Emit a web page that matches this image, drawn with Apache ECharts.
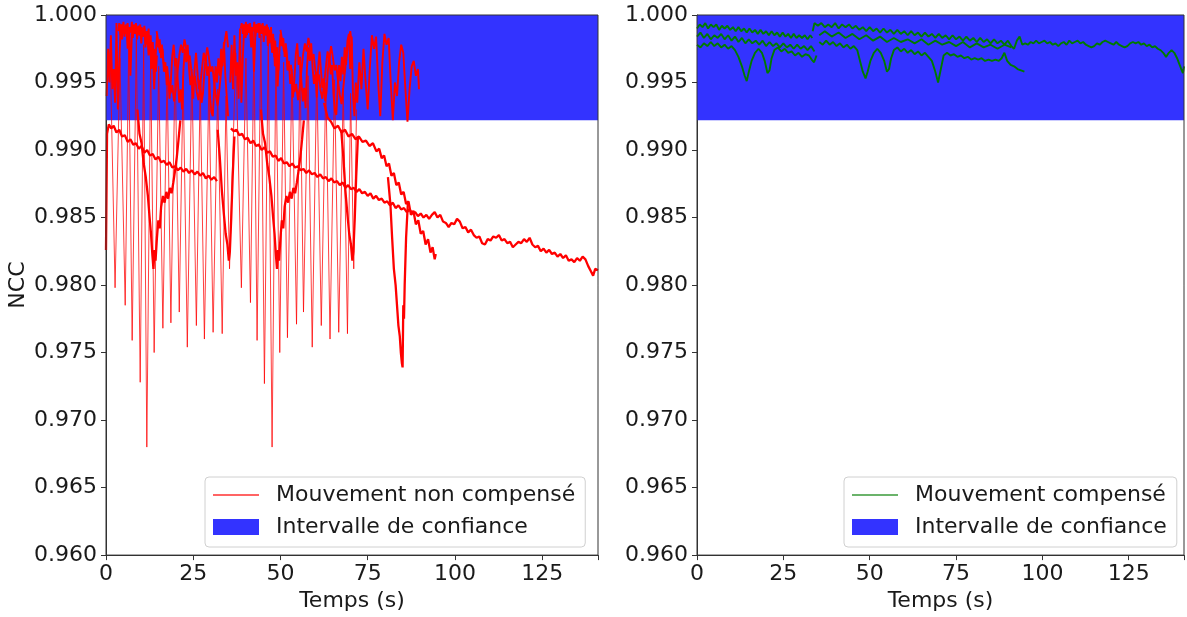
<!DOCTYPE html>
<html>
<head>
<meta charset="utf-8">
<script src="https://cdn.jsdelivr.net/npm/echarts@6/dist/echarts.min.js"></script>
<style>
html, body { margin: 0; padding: 0; background: #fff; }
#ncc_chart { width: 1187px; height: 617px; }
</style>
</head>
<body>
<div id="ncc_chart"></div>
<script>
// axes
const xTicks = [0, 25, 50, 75, 100, 125];
const xMax = 141;
const yMin = 0.96;
const yMax = 1.0;
const yStep = 0.005;

// confidence interval (blue band)
const bandLow = 0.9922;
const bandHigh = 1.0;

// ---- left panel: motion not compensated (red), [time s, NCC] ----
const osc_red = [
  [1.2,0.9972],[2.6,0.9798],[4.0,0.9968],[5.5,0.9785],[6.5,0.9975],[7.5,0.9759],[8.7,0.9982],[9.8,0.9728],
  [10.8,0.9978],[11.7,0.9680],[12.8,0.9970],[13.8,0.9750],[15.1,0.9962],[16.3,0.9768],[17.5,0.9958],[18.6,0.9772],
  [19.8,0.9965],[21.0,0.9780],[22.1,0.9955],[23.3,0.9754],[24.6,0.9960],[25.9,0.9770],[27.0,0.9948],[28.2,0.9760],
  [29.5,0.9952],[30.7,0.9765],[32.0,0.9945],[33.3,0.9764],[34.4,0.9940],[35.4,0.9812],[37.2,0.9972],[38.8,0.9798],
  [40.1,0.9968],[41.4,0.9787],[42.4,0.9978],[43.3,0.9759],[44.4,0.9985],[45.4,0.9727],[46.5,0.9980],[47.6,0.9680],
  [48.7,0.9972],[49.8,0.9750],[50.9,0.9965],[52.0,0.9761],[53.3,0.9960],[54.6,0.9771],[55.6,0.9966],[56.6,0.9780],
  [57.9,0.9955],[59.1,0.9754],[60.4,0.9958],[61.7,0.9770],[63.0,0.9950],[64.2,0.9760],[65.5,0.9952],[66.7,0.9765],
  [68.0,0.9946],[69.2,0.9764],[70.1,0.9942],[71.0,0.9812],[71.8,0.9930]
];
const trend1_red = [
  [0,0.9826],[0.3,0.9912],[0.8,0.9919],[1.5,0.9916],[2.2,0.9918],[3,0.9913],[3.8,0.9915],[4.6,0.9910],[5.4,0.9911],
  [6.2,0.9906],[7,0.9908],[7.8,0.9904],[8.6,0.9905],[9.4,0.9901],[10.2,0.9903],[11,0.9898],[11.8,0.9900],[12.6,0.9896],
  [13.4,0.9897],[14.2,0.9893],[15,0.9895],[15.8,0.9891],[16.6,0.9892],[17.4,0.9889],[18.2,0.9891],[19,0.9887],
  [19.8,0.9888],[20.6,0.9885],[21.4,0.9887],[22.2,0.9884],[23,0.9886],[23.8,0.9883],[24.6,0.9885],[25.4,0.9882],
  [26.2,0.9884],[27,0.9881],[27.8,0.9883],[28.6,0.9879],[29.4,0.9881],[30.2,0.9878],[31,0.9880],[31.8,0.9877]
];
const trend2_red = [
  [35.8,0.9916],[36.6,0.9914],[37.4,0.9915],[38.2,0.9911],[39.0,0.9912],[39.8,0.9908],[40.6,0.9909],[41.4,0.9905],
  [42.2,0.9907],[43.0,0.9903],[43.8,0.9904],[44.6,0.9900],[45.4,0.9902],[46.2,0.9898],[47.0,0.9899],[47.8,0.9895],
  [48.6,0.9896],[49.4,0.9892],[50.2,0.9894],[51.0,0.9890],[51.8,0.9891],[52.6,0.9888],[53.4,0.9890],[54.2,0.9887],
  [55.0,0.9888],[55.8,0.9885],[56.6,0.9886],[57.4,0.9883],[58.2,0.9885],[59.0,0.9882],[59.8,0.9883],[60.6,0.9880],
  [61.4,0.9882],[62.2,0.9879],[63.0,0.9880],[63.8,0.9877],[64.6,0.9879],[65.4,0.9876],[66.2,0.9877],[67.0,0.9874],
  [67.8,0.9876],[68.6,0.9872],[69.4,0.9874],[70.2,0.9871],[71.0,0.9872],[71.8,0.9869],[72.6,0.9871],[73.4,0.9868],
  [74.2,0.9869],[75.0,0.9866],[75.8,0.9868],[76.6,0.9864],[77.4,0.9866],[78.2,0.9863],[79.0,0.9864],[79.8,0.9861],
  [80.6,0.9862],[81.4,0.9859],[82.2,0.9861],[83.0,0.9857],[83.8,0.9859],[84.6,0.9856],[85.4,0.9857],[86.2,0.9854],
  [87.0,0.9856],[87.8,0.9853],[88.6,0.9854],[89.4,0.9851],[90.2,0.9853],[91.0,0.9850],[91.8,0.9852],[92.6,0.9849],
  [93.4,0.9852],[94.2,0.9854],[95.0,0.9850],[95.8,0.9852],[96.6,0.9847],[97.4,0.9846],[98.2,0.9843],[99.0,0.9846],
  [99.8,0.9845],[100.6,0.9849],[101.4,0.9847],[102.2,0.9842],[103.0,0.9843],[103.8,0.9839],[104.6,0.9841],[105.4,0.9837],
  [106.2,0.9835],[107.0,0.9836],[107.8,0.9831],[108.6,0.9830],[109.4,0.9834],[110.2,0.9833],[111.0,0.9836],[111.8,0.9835],
  [112.6,0.9837],[113.4,0.9833],[114.2,0.9834],[115.0,0.9831],[115.8,0.9832],[116.6,0.9828],[117.4,0.9830],[118.2,0.9832],
  [119.0,0.9831],[119.8,0.9834],[120.6,0.9832],[121.4,0.9835],[122.2,0.9830],[123.0,0.9828],[123.8,0.9829],[124.6,0.9825],
  [125.4,0.9827],[126.2,0.9824],[127.0,0.9826],[127.8,0.9823],[128.6,0.9824],[129.4,0.9821],[130.2,0.9823],[131.0,0.9820],
  [131.8,0.9822],[132.6,0.9818],[133.4,0.9819],[134.2,0.9817],[135.0,0.9820],[135.8,0.9818],[136.6,0.9821],[137.4,0.9819],
  [138.2,0.9814],[139.0,0.9810],[139.6,0.9807],[140.2,0.9812],[141.0,0.9811]
];
const upper1_red = [
  [0.2,0.9940],[0.6,0.9975],[1.0,0.9950],[1.4,0.9985],[1.8,0.9945],[2.2,0.9960],[2.6,0.9935],[3.0,0.9994],[3.4,0.9930],
  [3.8,0.9965],[4.2,0.9990],[4.6,0.9982],[5.0,0.9992],[5.4,0.9986],[5.8,0.9993],[6.2,0.9975],[6.6,0.9990],[7.0,0.9955],
  [7.4,0.9985],[7.8,0.9992],[8.2,0.9987],[8.6,0.9993],[9.0,0.9988],[9.4,0.9992],[9.8,0.9985],[10.2,0.9991],[10.6,0.9984],
  [11.0,0.9990],[11.4,0.9978],[11.8,0.9988],[12.2,0.9970],[12.6,0.9982],[13.0,0.9960],[13.4,0.9975],[13.8,0.9945],
  [14.2,0.9968],[14.6,0.9985],[15.0,0.9976],[15.4,0.9982],[15.8,0.9968],[16.2,0.9975],[16.6,0.9958],[17.0,0.9965],
  [17.4,0.9948],[17.8,0.9955],[18.2,0.9938],[18.6,0.9952],[19.0,0.9970],[19.4,0.9978],[19.8,0.9962],[20.2,0.9968],
  [20.6,0.9950],[21.0,0.9935],[21.4,0.9945],[21.8,0.9930],[22.2,0.9960],[22.6,0.9975],[23.0,0.9965],[23.4,0.9978],
  [23.8,0.9960],[24.2,0.9948],[24.6,0.9955],[25.0,0.9938],[25.4,0.9960],[25.8,0.9972],[26.2,0.9958],[26.6,0.9945],
  [27.0,0.9952],[27.4,0.9935],[27.8,0.9942],[28.2,0.9958],[28.6,0.9970],[29.0,0.9955],[29.4,0.9962],[29.8,0.9940],
  [30.2,0.9928],[30.6,0.9925],[31.0,0.9945],[31.4,0.9962],[31.8,0.9950],[32.2,0.9968],[32.6,0.9955],[33.0,0.9975],
  [33.4,0.9962],[33.8,0.9980],[34.2,0.9955],[34.6,0.9940],[35.0,0.9925]
];
const fill1_red = [
  [3.5,0.9988],[3.8,0.9994],[4.1,0.9985],[4.4,0.9993],[4.7,0.9987],[5.0,0.9995],[5.3,0.9984],[5.6,0.9992],[5.9,0.9986],
  [6.2,0.9994],[6.5,0.9980],[6.8,0.9991],[7.1,0.9987],[7.4,0.9995],[7.7,0.9983],[8.0,0.9993],[8.3,0.9986],[8.6,0.9994],
  [8.9,0.9982],[9.2,0.9991],[9.5,0.9985],[9.8,0.9993],[10.1,0.9979],[10.4,0.9990],[10.7,0.9984],[11.0,0.9992],
  [11.3,0.9976],[11.6,0.9988],[11.9,0.9981],[12.2,0.9990],[12.5,0.9972],[12.8,0.9985],[13.1,0.9968],[13.4,0.9980],
  [13.7,0.9963],[14.0,0.9975],[14.3,0.9958],[14.6,0.9970]
];
const fillW1_red = [
  [14.5,0.9988],[15.0,0.9980],[15.5,0.9972],[16.0,0.9978],[16.5,0.9965],[17.0,0.9958],[17.5,0.9962],[18.0,0.9950],
  [18.5,0.9942],[19.0,0.9948],[19.5,0.9936],[20.0,0.9945],[20.5,0.9958],[21.0,0.9970],[21.5,0.9978],[22.0,0.9972],
  [22.5,0.9982],[23.0,0.9975],[23.5,0.9966],[24.0,0.9970],[24.5,0.9958],[25.0,0.9950],[25.5,0.9955],[26.0,0.9943],
  [26.5,0.9937],[27.0,0.9948],[27.5,0.9960],[28.0,0.9972],[28.5,0.9966],[29.0,0.9976],[29.5,0.9968],[30.0,0.9958],
  [30.5,0.9962],[31.0,0.9950],[31.5,0.9940],[32.0,0.9933],[32.5,0.9945],[33.0,0.9958],[33.5,0.9970],[34.0,0.9980],
  [34.5,0.9988],[35.0,0.9976]
];
const upper2_red = [
  [35.6,0.9950],[36.0,0.9978],[36.4,0.9945],[36.8,0.9985],[37.2,0.9955],[37.6,0.9965],[38.0,0.9938],[38.4,0.9990],
  [38.8,0.9935],[39.2,0.9968],[39.6,0.9990],[40.0,0.9983],[40.4,0.9993],[40.8,0.9987],[41.2,0.9994],[41.6,0.9976],
  [42.0,0.9991],[42.4,0.9958],[42.8,0.9986],[43.2,0.9993],[43.6,0.9988],[44.0,0.9994],[44.4,0.9989],[44.8,0.9993],
  [45.2,0.9986],[45.6,0.9992],[46.0,0.9985],[46.4,0.9991],[46.8,0.9979],[47.2,0.9989],[47.6,0.9972],[48.0,0.9983],
  [48.4,0.9962],[48.8,0.9976],[49.2,0.9947],[49.6,0.9969],[50.0,0.9986],[50.4,0.9977],[50.8,0.9983],[51.2,0.9969],
  [51.6,0.9976],[52.0,0.9959],[52.4,0.9966],[52.8,0.9949],[53.2,0.9956],[53.6,0.9939],[54.0,0.9953],[54.4,0.9971],
  [54.8,0.9979],[55.2,0.9963],[55.6,0.9969],[56.0,0.9951],[56.4,0.9936],[56.8,0.9946],[57.2,0.9931],[57.6,0.9961],
  [58.0,0.9976],[58.4,0.9966],[58.8,0.9979],[59.2,0.9961],[59.6,0.9949],[60.0,0.9956],[60.4,0.9939],[60.8,0.9961],
  [61.2,0.9973],[61.6,0.9959],[62.0,0.9946],[62.4,0.9953],[62.8,0.9936],[63.2,0.9943],[63.6,0.9959],[64.0,0.9971],
  [64.4,0.9956],[64.8,0.9963],[65.2,0.9941],[65.6,0.9929],[66.0,0.9926],[66.4,0.9946],[66.8,0.9963],[67.2,0.9951],
  [67.6,0.9969],[68.0,0.9956],[68.4,0.9976],[68.8,0.9963],[69.2,0.9981],[69.6,0.9986],[70.0,0.9960],[70.4,0.9984],
  [70.8,0.9940],[71.2,0.9925],[71.6,0.9950],[72.0,0.9935],[72.6,0.9965],[73.2,0.9945],[73.8,0.9975],[74.4,0.9950],
  [75.0,0.9930],[75.6,0.9960],[76.2,0.9985],[76.8,0.9975],[77.4,0.9984],[78.0,0.9950],[78.6,0.9925],[79.2,0.9965],
  [79.8,0.9986],[80.4,0.9978],[81.0,0.9983],[81.6,0.9950],[82.2,0.9922],[82.8,0.9950],[83.4,0.9940],[84.0,0.9965],
  [84.6,0.9978],[85.2,0.9972],[85.8,0.9945],[86.4,0.9921],[87.0,0.9945],[87.6,0.9962],[88.2,0.9966],[88.8,0.9955],
  [89.4,0.9960],[89.7,0.9945]
];
const fill2_red = [
  [38.6,0.9990],[38.9,0.9994],[39.2,0.9986],[39.5,0.9993],[39.8,0.9988],[40.1,0.9995],[40.4,0.9985],[40.7,0.9993],
  [41.0,0.9987],[41.3,0.9994],[41.6,0.9981],[41.9,0.9991],[42.2,0.9988],[42.5,0.9995],[42.8,0.9984],[43.1,0.9993],
  [43.4,0.9987],[43.7,0.9994],[44.0,0.9983],[44.3,0.9992],[44.6,0.9986],[44.9,0.9994],[45.2,0.9980],[45.5,0.9991],
  [45.8,0.9985],[46.1,0.9993],[46.4,0.9977],[46.7,0.9989],[47.0,0.9982],[47.3,0.9991],[47.6,0.9973],[47.9,0.9986],
  [48.2,0.9969],[48.5,0.9981],[48.8,0.9964],[49.1,0.9976],[49.4,0.9959],[49.7,0.9971]
];
const fillW2_red = [
  [50.0,0.9989],[50.5,0.9981],[51.0,0.9973],[51.5,0.9979],[52.0,0.9966],[52.5,0.9959],[53.0,0.9963],[53.5,0.9951],
  [54.0,0.9943],[54.5,0.9949],[55.0,0.9937],[55.5,0.9946],[56.0,0.9959],[56.5,0.9971],[57.0,0.9979],[57.5,0.9973],
  [58.0,0.9983],[58.5,0.9976],[59.0,0.9967],[59.5,0.9971],[60.0,0.9959],[60.5,0.9951],[61.0,0.9956],[61.5,0.9944],
  [62.0,0.9938],[62.5,0.9949],[63.0,0.9961],[63.5,0.9973],[64.0,0.9967],[64.5,0.9977],[65.0,0.9969],[65.5,0.9959],
  [66.0,0.9963],[66.5,0.9951],[67.0,0.9941],[67.5,0.9934],[68.0,0.9946],[68.5,0.9959],[69.0,0.9971],[69.5,0.9981],
  [70.0,0.9988],[70.5,0.9977]
];
const drop1_red = [
  [9.0,0.9930],[9.6,0.9912],[10.2,0.9905],[10.8,0.9890],[11.4,0.9880],[12.0,0.9866],[12.5,0.9850],[12.9,0.9838],
  [13.3,0.9822],[13.6,0.9812],[13.9,0.9826],[14.2,0.9818],[14.6,0.9835],[15.0,0.9848],[15.4,0.9842],[15.8,0.9858],
  [16.3,0.9866],[16.8,0.9861],[17.3,0.9869],[17.8,0.9864],[18.3,0.9872],[18.8,0.9868],[19.3,0.9876],[19.8,0.9885],
  [20.3,0.9895],[20.8,0.9908],[21.3,0.9922]
];
const drop1b_red = [
  [32.0,0.9915],[32.6,0.9895],[33.2,0.9870],[33.8,0.9852],[34.3,0.9838],[34.8,0.9830],[35.2,0.9818],[35.5,0.9825],
  [35.9,0.9850],[36.3,0.9880],[36.8,0.9910]
];
const drop2_red = [
  [44.4,0.9930],[45.0,0.9912],[45.6,0.9905],[46.2,0.9890],[46.8,0.9880],[47.4,0.9866],[47.9,0.9850],[48.3,0.9838],
  [48.7,0.9822],[49.0,0.9812],[49.3,0.9826],[49.6,0.9818],[50.0,0.9835],[50.4,0.9848],[50.8,0.9842],[51.2,0.9858],
  [51.7,0.9866],[52.2,0.9861],[52.7,0.9869],[53.2,0.9864],[53.7,0.9872],[54.2,0.9868],[54.7,0.9876],[55.2,0.9885],
  [55.7,0.9895],[56.2,0.9908],[56.7,0.9922]
];
const drop2b_red = [
  [67.4,0.9915],[68.0,0.9895],[68.6,0.9870],[69.2,0.9852],[69.7,0.9838],[70.2,0.9830],[70.6,0.9818],[70.9,0.9825],
  [71.3,0.9850],[71.7,0.9880],[72.2,0.9910]
];
const desc_red = [
  [62.5,0.9935],[63.5,0.9924],[64.5,0.9921],[65.5,0.9916],[66.5,0.9918],[67.5,0.9913],[68.5,0.9915],[69.5,0.9910],
  [70.5,0.9912],[71.5,0.9908],[72.5,0.9910],[73.5,0.9906],[74.5,0.9907],[75.5,0.9903],[76.5,0.9905],[77.5,0.9899],
  [78.3,0.9901],[79.0,0.9894],[79.7,0.9896],[80.4,0.9888],[81.1,0.9890],[81.8,0.9881],[82.5,0.9883],[83.2,0.9874],
  [83.9,0.9876],[84.6,0.9867],[85.3,0.9869],[86.0,0.9860],[86.7,0.9862],[87.4,0.9852],[88.1,0.9855],[88.8,0.9845],
  [89.5,0.9848],[90.2,0.9838],[90.9,0.9840],[91.6,0.9830],[92.3,0.9834],[93.0,0.9824],[93.6,0.9828],[94.2,0.9819],
  [94.5,0.9823]
];
const spike_red = [
  [80.8,0.9880],[81.5,0.9860],[82.0,0.9835],[82.5,0.9812],[83.0,0.9800],[83.4,0.9785],[83.8,0.9770],[84.2,0.9762],
  [84.5,0.9750],[84.8,0.9742],[85.0,0.9739],[85.2,0.9785],[85.4,0.9775],[85.6,0.9800],[86.0,0.9835],[86.5,0.9860]
];

// ---- right panel: motion compensated (green), [time s, NCC] ----
const top1_green = [
  [0,0.9990],[0.8,0.9993],[1.6,0.9991],[2.4,0.9994],[3.2,0.9990],[4.0,0.9993],[4.8,0.9991],[5.6,0.9993],[6.4,0.9989],
  [7.2,0.9992],[8.0,0.9990],[8.8,0.9992],[9.6,0.9989],[10.4,0.9991],[11.2,0.9988],[12.0,0.9991],[12.8,0.9988],
  [13.6,0.9990],[14.4,0.9987],[15.2,0.9990],[16.0,0.9987],[16.8,0.9989],[17.6,0.9986],[18.4,0.9989],[19.2,0.9986],
  [20.0,0.9988],[20.8,0.9985],[21.6,0.9988],[22.4,0.9985],[23.2,0.9987],[24.0,0.9984],[24.8,0.9987],[25.6,0.9984],
  [26.4,0.9986],[27.2,0.9983],[28.0,0.9986],[28.8,0.9983],[29.6,0.9985],[30.4,0.9983],[31.2,0.9985],[32.0,0.9982],
  [32.8,0.9985],[33.4,0.9983]
];
const mid1_green = [
  [0,0.9984],[1,0.9987],[2,0.9983],[3,0.9986],[4,0.9982],[5,0.9985],[6,0.9983],[7,0.9986],[8,0.9982],[9,0.9985],
  [10,0.9981],[11,0.9984],[12,0.9980],[13,0.9983],[14,0.9979],[15,0.9982],[16,0.9979],[17,0.9981],[18,0.9978],
  [19,0.9981],[20,0.9977],[21,0.9980],[22,0.9977],[23,0.9979],[24,0.9976],[25,0.9979],[26,0.9976],[27,0.9978],
  [28,0.9975],[29,0.9978],[30,0.9975],[31,0.9977],[32,0.9974],[33,0.9977],[34,0.9973]
];
const low1_green = [
  [0,0.9978],[1,0.9976],[2,0.9979],[3,0.9977],[4,0.9980],[5,0.9977],[6,0.9979],[7,0.9976],[8,0.9978],[9,0.9975],
  [10,0.9977],[11,0.9974],[12,0.9969],[13,0.9962],[13.8,0.9955],[14.4,0.9951],[15.0,0.9958],[15.8,0.9966],
  [16.8,0.9972],[17.8,0.9975],[18.8,0.9972],[19.6,0.9966],[20.4,0.9957],[21.0,0.9959],[21.6,0.9968],[22.4,0.9974],
  [23.4,0.9976],[24.4,0.9973],[25.4,0.9975],[26.4,0.9972],[27.4,0.9973],[28.4,0.9970],[29.4,0.9972],[30.4,0.9969],
  [31.4,0.9971],[32.4,0.9970],[33.2,0.9967],[33.9,0.9965],[34.6,0.9970]
];
const long_green = [
  [33.5,0.9988],[34.0,0.9994],[35,0.9992],[36,0.9994],[37,0.9991],[38,0.9993],[39,0.9991],[40,0.9994],[41,0.9990],
  [42,0.9993],[43,0.9991],[44,0.9993],[45,0.9990],[46,0.9992],[47,0.9989],[48,0.9991],[49,0.9988],[50,0.9991],
  [51,0.9988],[52,0.9990],[53,0.9987],[54,0.9990],[55,0.9987],[56,0.9989],[57,0.9986],[58,0.9989],[59,0.9986],
  [60,0.9988],[61,0.9985],[62,0.9988],[63,0.9985],[64,0.9987],[65,0.9984],[66,0.9987],[67,0.9984],[68,0.9986],
  [69,0.9983],[70,0.9986],[71,0.9983],[72,0.9985],[73,0.9982],[74,0.9985],[75,0.9982],[76,0.9984],[77,0.9981],
  [78,0.9984],[79,0.9981],[80,0.9983],[81,0.9980],[82,0.9983],[83,0.9980],[84,0.9982],[85,0.9979],[86,0.9982],
  [87,0.9979],[88,0.9981],[89,0.9978],[90,0.9981],[91,0.9977],[91.8,0.9975],[92.6,0.9981],[93.4,0.9984],[94.2,0.9978],
  [95.0,0.9979],[95.8,0.9978],[96.6,0.9980],[97.4,0.9979],[98.2,0.9981],[99.0,0.9979],[99.8,0.9980],[100.6,0.9981],
  [101.4,0.9979],[102.2,0.9980],[103.0,0.9978],[103.8,0.9979],[104.6,0.9977],[105.4,0.9979],[106.2,0.9980],
  [107.0,0.9978],[107.8,0.9981],[108.6,0.9979],[109.4,0.9980],[110.2,0.9981],[111.0,0.9979],[111.8,0.9980],
  [112.6,0.9978],[113.4,0.9977],[114.2,0.9976],[115.0,0.9977],[115.8,0.9979],[116.6,0.9978],[117.4,0.9980],
  [118.2,0.9981],[119.0,0.9980],[119.8,0.9979],[120.6,0.9978],[121.4,0.9980],[122.2,0.9978],[123.0,0.9977],
  [123.8,0.9976],[124.6,0.9977],[125.4,0.9979],[126.2,0.9980],[127.0,0.9979],[127.8,0.9980],[128.6,0.9978],
  [129.4,0.9979],[130.2,0.9977],[131.0,0.9978],[131.8,0.9976],[132.6,0.9977],[133.4,0.9975],[134.2,0.9974],
  [135.0,0.9972],[135.8,0.9969],[136.6,0.9972],[137.4,0.9974],[138.2,0.9972],[139.0,0.9968],[139.6,0.9964],
  [140.2,0.9960],[140.7,0.9957],[141.0,0.9962]
];
const mid2_green = [
  [35.4,0.9985],[37,0.9988],[39,0.9984],[41,0.9987],[43,0.9983],[45,0.9986],[47,0.9982],[49,0.9985],[51,0.9981],
  [53,0.9984],[55,0.9980],[57,0.9983],[59,0.9980],[61,0.9982],[63,0.9979],[65,0.9982],[67,0.9978],[69,0.9981],
  [71,0.9978],[73,0.9980],[75,0.9977],[77,0.9980],[79,0.9976],[81,0.9979],[83,0.9976],[85,0.9978],[87,0.9975],
  [89,0.9978],[91,0.9976]
];
const low2_green = [
  [35.4,0.9980],[36.4,0.9978],[37.4,0.9981],[38.4,0.9978],[39.4,0.9980],[40.4,0.9977],[41.4,0.9979],[42.4,0.9976],
  [43.4,0.9978],[44.4,0.9975],[45.4,0.9977],[46.4,0.9974],[47.2,0.9966],[48.0,0.9958],[48.8,0.9953],[49.4,0.9958],
  [50.2,0.9966],[51.2,0.9972],[52.2,0.9975],[53.2,0.9972],[54.2,0.9966],[55.0,0.9958],[55.6,0.9960],[56.2,0.9968],
  [57.0,0.9974],[58.0,0.9976],[59.0,0.9973],[60.0,0.9975],[61.0,0.9972],[62.0,0.9974],[63.0,0.9971],[64.0,0.9973],
  [65.0,0.9970],[66.0,0.9972],[67.0,0.9969],[68.0,0.9966],[69.0,0.9958],[69.8,0.9950],[70.6,0.9960],[71.4,0.9970],
  [72.4,0.9972],[73.4,0.9970],[74.4,0.9971],[75.4,0.9969],[76.4,0.9970],[77.4,0.9968],[78.4,0.9969],[79.4,0.9967],
  [80.4,0.9968],[81.4,0.9967],[82.4,0.9968],[83.4,0.9966],[84.4,0.9967],[85.4,0.9966],[86.4,0.9967],[87.4,0.9966],
  [88.2,0.9968],[89.0,0.9972],[89.8,0.9966],[90.8,0.9963],[91.8,0.9962],[92.8,0.9960],[93.8,0.9959],[94.8,0.9958]
];

const redName = 'Mouvement non compensé';
const greenName = 'Mouvement compensé';
const bandName = 'Intervalle de confiance';
const fontFamily = 'DejaVu Sans';
const fontSize = 22;
const textColor = '#1a1a1a';
// thin horizontal stroke used as the legend line sample
const lineIcon = 'path://M0,0M0,7.2h46v1.6h-46zM46,16';

function traceSeries(name, data, panel, color, width) {
  return {
    name: name,
    type: 'line',
    xAxisIndex: panel,
    yAxisIndex: panel,
    data: data,
    symbol: 'none',
    showSymbol: false,
    silent: true,
    z: 3,
    lineStyle: { color: color, width: width },
    itemStyle: { color: color },
  };
}

function bandSeries(panel) {
  return {
    name: bandName,
    type: 'line',
    xAxisIndex: panel,
    yAxisIndex: panel,
    data: [[0, bandHigh], [xMax, bandHigh]],
    symbol: 'none',
    silent: true,
    z: 1,
    color: '#3333ff',
    lineStyle: { width: 0 },
    areaStyle: { color: '#3333ff', opacity: 1, origin: bandLow },
  };
}

function xAxisFor(panel) {
  return {
    type: 'value',
    gridIndex: panel,
    min: 0,
    max: xMax,
    interval: 25,
    name: 'Temps (s)',
    nameLocation: 'middle',
    nameGap: 31,
    nameTextStyle: { fontFamily: fontFamily, fontSize: fontSize, color: textColor },
    axisLine: { show: true, onZero: false, lineStyle: { color: '#333', width: 1 } },
    axisTick: { show: true, length: 5, lineStyle: { color: '#333' } },
    axisLabel: {
      margin: 8,
      fontFamily: fontFamily,
      fontSize: fontSize,
      color: textColor,
      formatter: (v) => (xTicks.indexOf(v) >= 0 ? String(v) : ''),
    },
    splitLine: { show: false },
  };
}

function yAxisFor(panel, withName) {
  return {
    type: 'value',
    gridIndex: panel,
    min: yMin,
    max: yMax,
    interval: yStep,
    name: withName ? 'NCC' : '',
    nameLocation: 'middle',
    nameGap: 77,
    nameRotate: 90,
    nameTextStyle: { fontFamily: fontFamily, fontSize: fontSize, color: textColor },
    axisLine: { show: true, lineStyle: { color: '#333', width: 1 } },
    axisTick: { show: true, length: 5, lineStyle: { color: '#333' } },
    axisLabel: {
      margin: 9,
      fontFamily: fontFamily,
      fontSize: fontSize,
      color: textColor,
      formatter: (v) => v.toFixed(3),
    },
    splitLine: { show: false },
  };
}

function legendFor(left, lineName, lineColor) {
  return {
    orient: 'vertical',
    left: left,
    top: 477,
    itemWidth: 46,
    itemHeight: 16,
    itemGap: 10,
    padding: [7, 10, 9, 8],
    backgroundColor: 'rgba(255,255,255,0.85)',
    borderColor: '#d0d0d0',
    borderWidth: 1,
    borderRadius: 4,
    selectedMode: false,
    textStyle: { fontFamily: fontFamily, fontSize: fontSize, color: textColor, padding: [0, 0, 0, 12] },
    data: [
      { name: lineName, icon: lineIcon, itemStyle: { color: lineColor } },
      { name: bandName, icon: 'rect', itemStyle: { color: '#3333ff' } },
    ],
  };
}

const chart = echarts.init(document.getElementById('ncc_chart'), null, { renderer: 'canvas' });

const thinRed = [osc_red];
const bandRed = [upper1_red, fill1_red, fillW1_red, upper2_red, fill2_red, fillW2_red];
const trendRed = [trend1_red, trend2_red, drop1_red, drop1b_red, drop2_red, drop2b_red, desc_red, spike_red];
const greenTraces = [low1_green, low2_green, mid1_green, mid2_green, top1_green, long_green];

const series = [bandSeries(0), bandSeries(1)];
thinRed.forEach((d) => series.push(traceSeries(redName, d, 0, 'rgba(255,0,0,0.75)', 1)));
bandRed.forEach((d) => series.push(traceSeries(redName, d, 0, '#ff0000', 1.9)));
trendRed.forEach((d) => series.push(traceSeries(redName, d, 0, '#ff0000', 2.3)));
greenTraces.forEach((d) => series.push(traceSeries(greenName, d, 1, '#007a00', 1.9)));

const option = {
  animation: false,
  backgroundColor: '#ffffff',
  grid: [
    { left: 106, width: 492, top: 15, height: 544, show: true, borderColor: '#333', borderWidth: 1, backgroundColor: 'transparent', z: 5 },
    { left: 697, width: 489, top: 15, height: 544, show: true, borderColor: '#333', borderWidth: 1, backgroundColor: 'transparent', z: 5 },
  ],
  xAxis: [xAxisFor(0), xAxisFor(1)],
  yAxis: [yAxisFor(0, true), yAxisFor(1, false)],
  legend: [legendFor(205, redName, '#ff3030'), legendFor(844, greenName, '#3a9a3a')],
  series: series,
};

chart.setOption(option);
window.addEventListener('resize', () => {
  chart.resize();
});
</script>
</body>
</html>
